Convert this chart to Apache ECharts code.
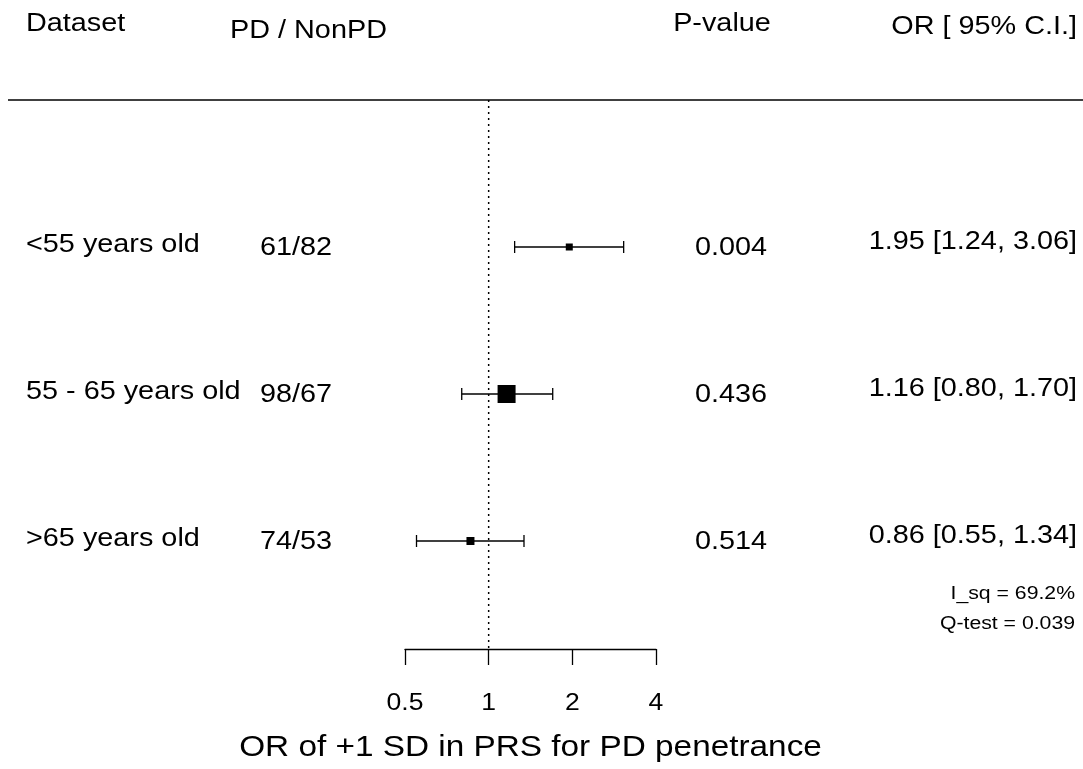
<!DOCTYPE html>
<html><head><meta charset="utf-8">
<script src="https://cdn.jsdelivr.net/npm/echarts@6/dist/echarts.min.js"></script>
<style>html,body{margin:0;padding:0;background:#fff}#c{width:1083px;height:769px}</style>
</head><body><div id="c"></div>
<script>
const datasets = ['<55 years old', '55 - 65 years old', '>65 years old'];
const counts = ['61/82', '98/67', '74/53'];
const pValues = ['0.004', '0.436', '0.514'];
const orValues = [1.95, 1.16, 0.86];
const ciLow = [1.24, 0.80, 0.55];
const ciHigh = [3.06, 1.70, 1.34];
const weights = [7, 18, 8];
const xTicks = [0.5, 1, 2, 4];
const headers = ['Dataset', 'PD / NonPD', 'P-value', 'OR [ 95% C.I.]'];
const heterogeneity = ['I_sq = 69.2%', 'Q-test = 0.039'];
const xTitle = 'OR of +1 SD in PRS for PD penetrance';

const FONT = 'Liberation Sans, Arial, Helvetica, sans-serif';
const SX = 1.13;
const chart = echarts.init(document.getElementById('c'), null, {renderer: 'canvas'});
const yMax = 549 / 147;

const rows = orValues.map((v, i) => [v, i + 1, ciLow[i], ciHigh[i], weights[i]]);

const option = {
  animation: false,
  backgroundColor: '#fff',
  grid: {left: 405, right: 427, top: 100, bottom: 120, containLabel: false},
  xAxis: {
    type: 'log', logBase: 2, min: 0.5, max: 4, position: 'bottom',
    splitLine: {show: false},
    axisLine: {show: true, onZero: false, lineStyle: {color: '#000', width: 1.3}},
    axisTick: {show: true, inside: false, length: 16, lineStyle: {color: '#000', width: 1.3}},
    minorTick: {show: false},
    axisLabel: {show: false}
  },
  yAxis: {
    type: 'value', inverse: true, min: 0, max: yMax, show: false
  },
  series: [
    {
      type: 'line',
      data: [[1, 0], [1, yMax]],
      symbol: 'none',
      lineStyle: {color: '#000', width: 1.5, type: [2, 4]},
      z: 1
    },
    {
      type: 'custom',
      data: rows,
      encode: {x: 0, y: 1},
      z: 3,
      renderItem: function (params, api) {
        const c = api.coord([api.value(0), api.value(1)]);
        const lo = api.coord([api.value(2), api.value(1)]);
        const hi = api.coord([api.value(3), api.value(1)]);
        const s = api.value(4);
        const st = {stroke: '#000', lineWidth: 1.3};
        return {
          type: 'group',
          children: [
            {type: 'line', shape: {x1: lo[0], y1: c[1], x2: hi[0], y2: c[1]}, style: st},
            {type: 'line', shape: {x1: lo[0], y1: c[1] - 6, x2: lo[0], y2: c[1] + 6}, style: st},
            {type: 'line', shape: {x1: hi[0], y1: c[1] - 6, x2: hi[0], y2: c[1] + 6}, style: st},
            {type: 'rect', shape: {x: c[0] - s / 2, y: c[1] - s / 2, width: s, height: s}, style: {fill: '#000'}}
          ]
        };
      }
    }
  ]
};
chart.setOption(option);

const g = [];
const txt = (x, y, text, align, size) => ({
  type: 'text', x: x, y: y, scaleX: SX,
  style: {x: 0, y: 0, text: text, fill: '#000', fontSize: size || 25.5, fontFamily: FONT, align: align || 'left', verticalAlign: 'middle'}
});
g.push(txt(26, 24, headers[0]));
g.push(txt(230, 31, headers[1]));
g.push(txt(722, 24, headers[2], 'center'));
g.push(txt(1077, 27, headers[3], 'right'));
g.push({type: 'line', shape: {x1: 8, y1: 100, x2: 1083, y2: 100}, style: {stroke: '#000', lineWidth: 1.3}});
datasets.forEach((d, i) => {
  const y = chart.convertToPixel({gridIndex: 0}, [1, i + 1])[1];
  g.push(txt(26, y - 2, d));
  g.push(txt(260, y + 1, counts[i]));
  g.push(txt(731, y + 1, pValues[i], 'center'));
  g.push(txt(1077, y - 5, `${orValues[i].toFixed(2)} [${ciLow[i].toFixed(2)}, ${ciHigh[i].toFixed(2)}]`, 'right'));
});
xTicks.forEach(t => {
  const x = chart.convertToPixel({gridIndex: 0}, [t, yMax])[0];
  g.push(txt(x, 704, String(t), 'center', 23.5));
});
const xMid = (chart.convertToPixel({gridIndex: 0}, [0.5, yMax])[0] + chart.convertToPixel({gridIndex: 0}, [4, yMax])[0]) / 2;
g.push(txt(xMid, 748, xTitle, 'center', 29.5));
g.push(txt(1075, 594, heterogeneity[0], 'right', 18.8));
g.push(txt(1075, 624, heterogeneity[1], 'right', 18.8));
chart.setOption({graphic: g});
</script></body></html>
